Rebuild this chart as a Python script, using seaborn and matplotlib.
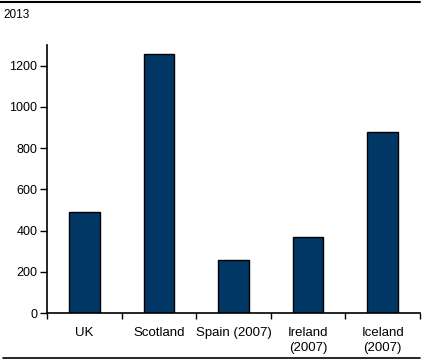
import matplotlib
matplotlib.use("Agg")
import matplotlib.pyplot as plt
from matplotlib.lines import Line2D
import seaborn as sns
import pandas as pd

categories = ["UK", "Scotland", "Spain (2007)", "Ireland\n(2007)", "Iceland\n(2007)"]
values = [490, 1257, 258, 368, 876]
yticks = [0, 200, 400, 600, 800, 1000, 1200]
title_text = "2013"

sns.set_theme(style="white")
plt.rcParams['font.family'] = ['Liberation Sans', 'DejaVu Sans']

df = pd.DataFrame({"cat": categories, "val": values})

fig = plt.figure(figsize=(4.25, 3.6), dpi=100)
ax = fig.add_axes([47/425, 1-313/360, (420-47)/425, (313-45)/360])

sns.barplot(data=df, x="cat", y="val", color="#003764", saturation=1,
            width=0.41, edgecolor="black", linewidth=1, ax=ax)

ax.set_xlim(-0.5, 4.5)
ax.set_ylim(0, 1300)
ax.set_yticks(yticks)
ax.set_yticklabels([str(v) for v in yticks], fontsize=9, color="black")
ax.set_xlabel("")
ax.set_ylabel("")
ax.set_xticks(range(len(categories)))
ax.set_xticklabels(categories, fontsize=9.5, color="black", linespacing=1.35)
ax.set_xticks([i - 0.5 for i in range(len(categories) + 1)], minor=True)
ax.tick_params(axis="x", which="major", length=0, pad=10)
ax.tick_params(axis="x", which="minor", length=4, width=1, color="black", direction="out", bottom=True)
ax.tick_params(axis="y", which="major", length=5, width=1, color="black", direction="out", left=True, pad=2)

for s in ["top", "right"]:
    ax.spines[s].set_visible(False)
for s in ["left", "bottom"]:
    ax.spines[s].set_color("black")
    ax.spines[s].set_linewidth(1.2)

fig.text(3/425, 1-15/360, title_text, fontsize=8.5, color="black", ha="left", va="center")
fig.add_artist(Line2D([0, 420/425], [1-1.5/360, 1-1.5/360], color="black", lw=1.5, transform=fig.transFigure))
fig.add_artist(Line2D([3/425, 420/425], [1-358/360, 1-358/360], color="black", lw=1.2, transform=fig.transFigure))

fig.savefig("out.png", dpi=100)
